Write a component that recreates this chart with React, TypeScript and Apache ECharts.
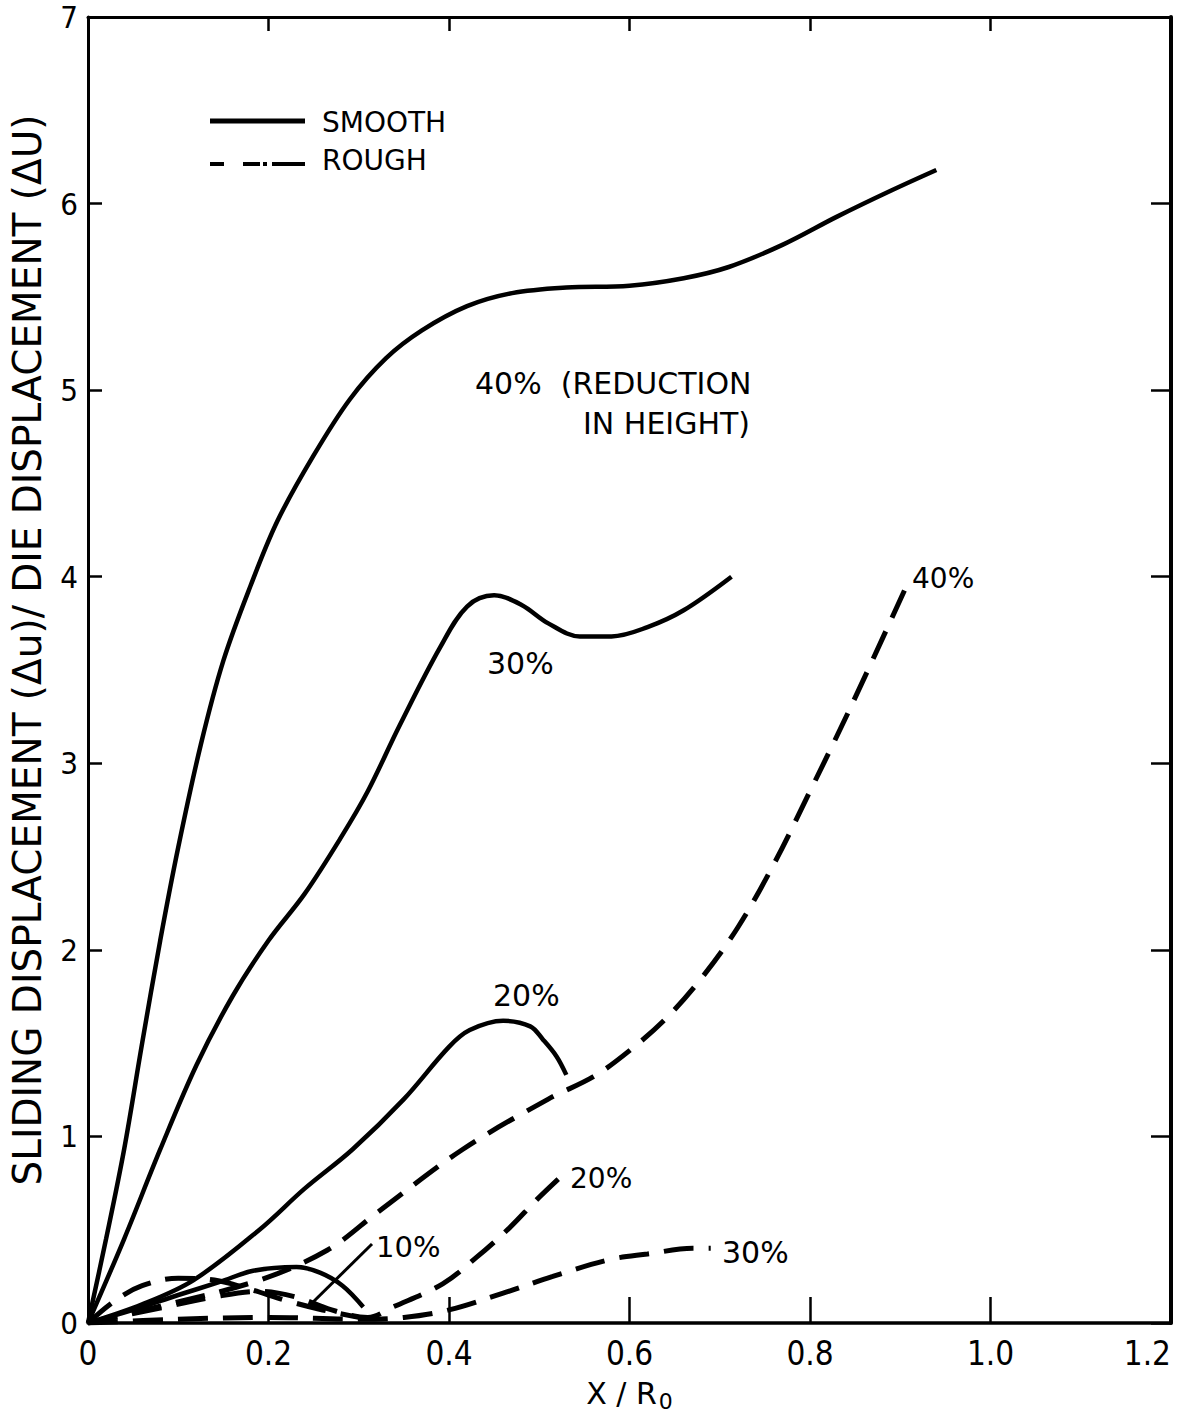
import React, { useEffect, useRef } from "react";
import * as echarts from "echarts";

const xTickLabels = ["0", "0.2", "0.4", "0.6", "0.8", "1.0", "1.2"];
const yTickLabels = ["0", "1", "2", "3", "4", "5", "6", "7"];

// Smooth die curves (x/R0, Δu/ΔU)
const smooth40 = [
  [0, 0], [0.02, 0.45], [0.04, 0.93], [0.06, 1.5], [0.08, 2.05], [0.1, 2.55], [0.125, 3.1],
  [0.15, 3.55], [0.18, 3.95], [0.21, 4.3], [0.25, 4.65], [0.29, 4.95], [0.33, 5.17],
  [0.37, 5.32], [0.42, 5.45], [0.47, 5.52], [0.53, 5.55], [0.6, 5.56], [0.66, 5.6],
  [0.71, 5.66], [0.77, 5.78], [0.83, 5.93], [0.89, 6.07], [0.94, 6.18],
];
const smooth30 = [
  [0, 0], [0.04, 0.45], [0.08, 0.93], [0.12, 1.38], [0.16, 1.75], [0.2, 2.05],
  [0.24, 2.3], [0.28, 2.6], [0.31, 2.85], [0.345, 3.2], [0.39, 3.62], [0.42, 3.84],
  [0.45, 3.9], [0.48, 3.85], [0.51, 3.75], [0.545, 3.68], [0.58, 3.68], [0.62, 3.73],
  [0.66, 3.82], [0.713, 4.0],
];
const smooth20 = [
  [0, 0], [0.06, 0.1], [0.117, 0.23], [0.19, 0.5], [0.24, 0.72], [0.293, 0.93],
  [0.35, 1.2], [0.4, 1.48], [0.423, 1.57], [0.46, 1.62], [0.49, 1.59], [0.504, 1.52],
  [0.519, 1.43], [0.53, 1.33],
];
const smooth10 = [
  [0, 0], [0.05, 0.07], [0.1, 0.15], [0.146, 0.22], [0.183, 0.28], [0.231, 0.3],
  [0.257, 0.27], [0.282, 0.2], [0.305, 0.086],
];

// Rough die curves
const rough40 = [
  [0, 0], [0.08, 0.09], [0.19, 0.23], [0.265, 0.39], [0.32, 0.59], [0.415, 0.93],
  [0.51, 1.2], [0.56, 1.32], [0.6, 1.46], [0.64, 1.63], [0.68, 1.85], [0.72, 2.12],
  [0.76, 2.46], [0.8, 2.85], [0.845, 3.3], [0.905, 3.93],
];
const rough30 = [
  [0, 0], [0.1, 0.02], [0.2, 0.03], [0.3, 0.02], [0.35, 0.03], [0.4, 0.07],
  [0.46, 0.16], [0.515, 0.25], [0.578, 0.34], [0.62, 0.37], [0.67, 0.4], [0.69, 0.4],
];
const rough20 = [
  [0, 0], [0.08, 0.08], [0.14, 0.14], [0.19, 0.17], [0.23, 0.14], [0.27, 0.07],
  [0.31, 0.03], [0.338, 0.086], [0.393, 0.21], [0.43, 0.35], [0.467, 0.51],
  [0.497, 0.66], [0.523, 0.78],
];
const rough10 = [
  [0, 0], [0.03, 0.12], [0.06, 0.2], [0.1, 0.24], [0.14, 0.23], [0.18, 0.18],
  [0.22, 0.12], [0.26, 0.07], [0.3, 0.03],
];

const FONT = "DejaVu Sans, Liberation Sans, sans-serif";
const TICKFONT = "'DejaVu Sans Condensed', 'Liberation Sans Narrow', 'DejaVu Sans', sans-serif";

export default function App() {
  const ref = useRef<HTMLDivElement>(null);
  useEffect(() => {
    document.body.style.margin = "0";
    document.body.style.overflow = "hidden";
    document.documentElement.style.overflow = "hidden";
    const chart = echarts.init(ref.current!, null, { renderer: "svg", width: 1185, height: 1419 });
    const solid = (name: string, data: number[][]) => ({
      name, type: "line", data, smooth: 0.35, showSymbol: false, symbol: "none",
      lineStyle: { color: "#000", width: 4.5 }, z: 3,
    });
    const dashed = (name: string, data: number[][]) => ({
      name, type: "line", data, smooth: 0.35, showSymbol: false, symbol: "none",
      lineStyle: { color: "#000", width: 5, type: [30, 15] }, z: 3,
    });
    const txt = (text: string, x: number, y: number, size = 28) => ({
      type: "text", x, y,
      style: { text, fill: "#000", font: `${size}px ${FONT}`, verticalAlign: "middle" },
    });
    const option: any = {
      animation: false,
      backgroundColor: "#fff",
      grid: {
        left: 88, right: 14, top: 17, bottom: 96,
        containLabel: false, outerBoundsMode: "none",
      },
      xAxis: [
        {
          type: "value", min: 0, max: 1.2, interval: 0.2, position: "bottom",
          name: "X / R{sub|0}", nameLocation: "middle", nameGap: 52,
          nameTextStyle: {
            fontFamily: FONT, fontSize: 30, color: "#000", lineHeight: 32,
            rich: { sub: { fontFamily: FONT, fontSize: 22, color: "#000", lineHeight: 28, padding: [16, 0, 0, 2] } },
          },
          axisLine: { show: true, onZero: false, lineStyle: { color: "#000", width: 3.5 } },
          axisTick: { show: true, inside: true, length: 26, lineStyle: { color: "#000", width: 2.5 } },
          axisLabel: {
            margin: 14, fontFamily: TICKFONT, fontSize: 33, color: "#000",
            alignMaxLabel: "right",
            formatter: (v: number) => xTickLabels[Math.round(v / 0.2)],
          },
          splitLine: { show: false },
        },
        {
          type: "value", min: 0, max: 1.2, interval: 0.2, position: "top",
          axisLine: { show: true, onZero: false, lineStyle: { color: "#000", width: 3 } },
          axisTick: { show: true, inside: true, length: 14, lineStyle: { color: "#000", width: 2.5 } },
          axisLabel: { show: false }, splitLine: { show: false },
        },
      ],
      yAxis: [
        {
          type: "value", min: 0, max: 7, interval: 1, position: "left",
          axisLine: { show: true, onZero: false, lineStyle: { color: "#000", width: 3 } },
          axisTick: { show: true, inside: true, length: 14, lineStyle: { color: "#000", width: 2.5 } },
          axisLabel: {
            margin: 10, fontFamily: TICKFONT, fontSize: 31, color: "#000",
            lineHeight: 22, padding: [10, 0, 0, 0],
            formatter: (v: number) => yTickLabels[Math.round(v)],
          },
          splitLine: { show: false },
        },
        {
          type: "value", min: 0, max: 7, interval: 1, position: "right",
          axisLine: { show: true, onZero: false, lineStyle: { color: "#000", width: 4 } },
          axisTick: { show: true, inside: true, length: 20, lineStyle: { color: "#000", width: 2.5 } },
          axisLabel: { show: false }, splitLine: { show: false },
        },
      ],
      series: [
        solid("Smooth 40%", smooth40),
        solid("Smooth 30%", smooth30),
        solid("Smooth 20%", smooth20),
        solid("Smooth 10%", smooth10),
        dashed("Rough 40%", rough40),
        dashed("Rough 30%", rough30),
        dashed("Rough 20%", rough20),
        dashed("Rough 10%", rough10),
      ],
      graphic: [
        {
          type: "text", x: 27, y: 650, rotation: Math.PI / 2,
          style: {
            text: "SLIDING DISPLACEMENT (\u0394u)/ DIE DISPLACEMENT (\u0394U)",
            fill: "#000", font: `39px ${FONT}`, align: "center", verticalAlign: "middle",
          },
        },
        { type: "line", shape: { x1: 210, y1: 121, x2: 305, y2: 121 }, style: { stroke: "#000", lineWidth: 5 } },
        { type: "line", shape: { x1: 210, y1: 164, x2: 224, y2: 164 }, style: { stroke: "#000", lineWidth: 4 } },
        { type: "line", shape: { x1: 243, y1: 164, x2: 260, y2: 164 }, style: { stroke: "#000", lineWidth: 4 } },
        { type: "line", shape: { x1: 263, y1: 164, x2: 267, y2: 164 }, style: { stroke: "#000", lineWidth: 4 } },
        { type: "line", shape: { x1: 272, y1: 164, x2: 305, y2: 164 }, style: { stroke: "#000", lineWidth: 4 } },
        txt("SMOOTH", 322, 122, 28),
        txt("ROUGH", 322, 160, 28),
        txt("40%  (REDUCTION", 475, 383, 30),
        txt("IN HEIGHT)", 583, 423, 30),
        txt("30%", 487, 663, 30),
        txt("20%", 493, 995, 30),
        txt("40%", 912, 578, 28),
        txt("20%", 570, 1178, 28),
        txt("10%", 376, 1247, 29),
        txt("30%", 722, 1252, 30),
        { type: "line", shape: { x1: 372, y1: 1244, x2: 307, y2: 1308 }, style: { stroke: "#000", lineWidth: 3 } },
      ],
    };
    chart.setOption(option);
    return () => chart.dispose();
  }, []);
  return (
    <div
      ref={ref}
      style={{ position: "absolute", left: 0, top: 0, width: 1185, height: 1419, background: "#fff" }}
    />
  );
}
